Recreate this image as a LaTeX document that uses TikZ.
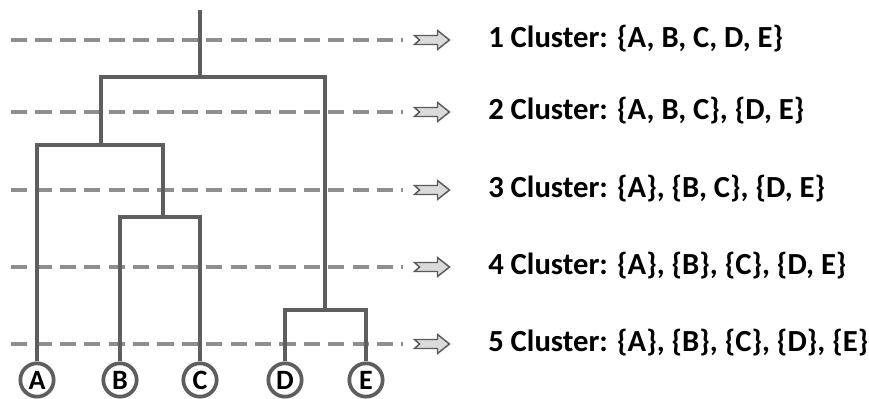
\documentclass[tikz,border=0pt]{standalone}
\usepackage{fontspec}
\setmainfont{Carlito}
\definecolor{treegray}{HTML}{5E5E5E}
\definecolor{dashgray}{HTML}{8E8E8E}
\definecolor{arrowfill}{HTML}{DADADA}
\definecolor{arrowline}{HTML}{5A5A5A}
\newcommand{\leafletter}[1]{{\fontsize{21}{21}\selectfont\bfseries #1}}
\tikzset{
  tree/.style={line width=3.5pt, draw=treegray, line join=miter, line cap=butt},
  leaf/.style={circle, draw=treegray, line width=2.8pt, fill=white, minimum size=25pt, inner sep=0pt, text=black},
  level/.style={line width=2.3pt, draw=dashgray, dash pattern=on 12.2pt off 6.1pt},
  lab/.style={anchor=base west, inner sep=0pt, text=black},
  blockarrow/.pic={\filldraw[fill=arrowfill, draw=arrowline, line width=1.1pt, line join=miter]
     (-17.5,-4.5) -- (5.5,-4.5) -- (5.5,-9.5) -- (17.5,0) -- (5.5,9.5) -- (5.5,4.5) -- (-17.5,4.5) -- (-12.5,0) -- cycle;}
}
\newcommand{\labtext}[1]{{\fontsize{23}{23}\selectfont\bfseries #1}}
\begin{document}
\begin{tikzpicture}[x=0.75pt, y=-0.75pt]
\useasboundingbox (0,0) rectangle (869,399);
% leaves
\node[leaf] (A) at (37,380) {\leafletter{A}};
\node[leaf] (B) at (120,380) {\leafletter{B}};
\node[leaf] (C) at (200,380) {\leafletter{C}};
\node[leaf] (D) at (285,380) {\leafletter{D}};
\node[leaf] (E) at (366,380) {\leafletter{E}};
% junctions
\coordinate (top) at (200,10);
\coordinate (n1) at (200,77);
\coordinate (n2) at (101,145);
\coordinate (n3) at (163,217);
\coordinate (n4) at (325,310);
% levels
\foreach \i/\y in {1/40,2/112,3/190,4/267,5/344}{
  \coordinate (ls\i) at (11,\y);
  \coordinate (le\i) at (403,\y);
  \coordinate (ar\i) at (432,\y);
  \draw[level] (ls\i) -- (le\i);
  \pic at (ar\i) {blockarrow};
}
% tree
\draw[tree] (top) -- (n1);
\draw[tree] (n2) |- (n1) -| (n4);
\draw[tree] (A) |- (n2) -| (n3);
\draw[tree] (B) |- (n3) -| (C);
\draw[tree] (D) |- (n4) -| (E);
% labels
\node[lab] (t1) at (488,47.5) {\labtext{1 Cluster: \{A, B, C, D, E\}}};
\node[lab] (t2) at (488,119.5) {\labtext{2 Cluster: \{A, B, C\}, \{D, E\}}};
\node[lab] (t3) at (488,197.5) {\labtext{3 Cluster: \{A\}, \{B, C\}, \{D, E\}}};
\node[lab] (t4) at (488,274.5) {\labtext{4 Cluster: \{A\}, \{B\}, \{C\}, \{D, E\}}};
\node[lab] (t5) at (488,351.5) {\labtext{5 Cluster: \{A\}, \{B\}, \{C\}, \{D\}, \{E\}}};
\end{tikzpicture}
\end{document}
